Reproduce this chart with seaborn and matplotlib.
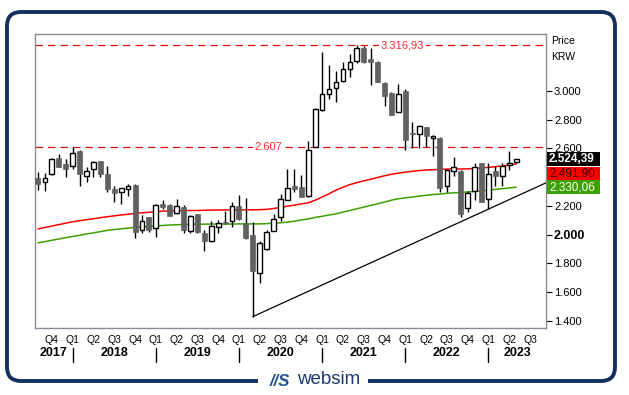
import numpy as np
import pandas as pd
import matplotlib
matplotlib.use("Agg")
import matplotlib.pyplot as plt
from matplotlib.patches import FancyBboxPatch, Rectangle
import matplotlib.transforms as mtransforms
import seaborn as sns

# monthly candles, Aug 2017 .. May 2023
months = pd.period_range("2017-08", "2023-05", freq="M")
opens = [2393, 2365, 2420, 2534, 2494, 2476, 2583, 2407, 2457, 2513, 2423, 2318,
         2295, 2316, 2346, 2033, 2121, 2049, 2214, 2205, 2149, 2191, 2024, 2142,
         2012, 1954, 2056, 2087, 2094, 2200, 2082, 1998, 1732, 1901, 2028, 2126,
         2244, 2337, 2330, 2272, 2612, 2870, 2977, 3019, 3072, 3151, 3207, 3297,
         3220, 3204, 3056, 2986, 2856, 3002, 2710, 2701, 2747, 2671, 2673, 2337,
         2441, 2446, 2186, 2306, 2499, 2249, 2446, 2411, 2485, 2504]
highs = [2434, 2432, 2530, 2562, 2525, 2607, 2590, 2471, 2510, 2515, 2478, 2339,
         2325, 2353, 2353, 2135, 2125, 2210, 2242, 2215, 2247, 2209, 2135, 2145,
         2033, 2098, 2103, 2167, 2226, 2276, 2256, 2087, 1954, 2030, 2144, 2283,
         2457, 2457, 2414, 2654, 2882, 3269, 3181, 3141, 3200, 3257, 3316.93, 3310,
         3297, 3210, 3060, 2990, 3049, 3010, 2786, 2766, 2750, 2696, 2680, 2460,
         2543, 2450, 2306, 2499, 2500, 2499, 2480, 2497, 2585, 2526]
lows = [2309, 2306, 2415, 2469, 2404, 2457, 2341, 2369, 2404, 2404, 2297, 2230,
        2214, 2270, 1979, 2014, 2019, 1985, 2180, 2130, 2145, 2010, 2010, 2010,
        1885, 1950, 2010, 2075, 2052, 2105, 1970, 1430, 1662, 1890, 2024, 2098,
        2240, 2300, 2260, 2265, 2608, 2863, 2944, 2926, 3065, 3100, 3197, 3193,
        3042, 3060, 2898, 2830, 2850, 2590, 2601, 2601, 2612, 2550, 2300, 2300,
        2410, 2125, 2156, 2242, 2228, 2179, 2341, 2341, 2450, 2502]
closes = [2355, 2393, 2525, 2473, 2459, 2567, 2425, 2441, 2508, 2420, 2320, 2292,
          2323, 2337, 2021, 2094, 2033, 2205, 2191, 2132, 2198, 2035, 2130, 2021,
          1959, 2059, 2080, 2080, 2200, 2110, 1977, 1750, 1940, 2021, 2107, 2247,
          2323, 2320, 2265, 2590, 2873, 2977, 3014, 3061, 3151, 3204, 3297, 3200,
          3199, 3065, 2967, 2833, 2979, 2659, 2699, 2754, 2689, 2685, 2325, 2450,
          2469, 2144, 2288, 2469, 2230, 2423, 2411, 2476, 2499, 2524.39]

# moving averages (one value per month)
ma_red = [2040, 2050, 2060, 2070, 2080, 2090, 2097, 2104, 2111, 2118, 2125, 2131,
          2137, 2142, 2148, 2152, 2156, 2160, 2164, 2166, 2167, 2168, 2168, 2168,
          2170, 2171, 2172, 2172, 2172, 2172, 2173, 2173, 2174, 2176, 2182, 2190,
          2198, 2206, 2214, 2222, 2240, 2262, 2285, 2310, 2330, 2348, 2362, 2375,
          2385, 2398, 2410, 2420, 2428, 2435, 2441, 2446, 2450, 2452, 2454, 2456,
          2457, 2457, 2458, 2460, 2464, 2468, 2473, 2478, 2485, 2491.90]
ma_green = [1943, 1952, 1961, 1970, 1979, 1988, 1996, 2005, 2013, 2021, 2030, 2036,
            2041, 2046, 2051, 2055, 2058, 2061, 2064, 2067, 2069, 2071, 2072, 2073,
            2073, 2074, 2074, 2074, 2074, 2075, 2075, 2075, 2075, 2077, 2080, 2083,
            2087, 2094, 2102, 2110, 2120, 2128, 2137, 2145, 2157, 2168, 2180, 2192,
            2204, 2215, 2227, 2240, 2250, 2256, 2262, 2268, 2274, 2279, 2283, 2288,
            2291, 2294, 2297, 2300, 2305, 2310, 2315, 2320, 2325, 2330.06]

# trendline anchors (Mar 2020 low, Jan 2023 low)
trend_months = ["2020-03", "2023-01"]
trend_prices = [1430, 2178]

level_high = 3316.93
level_mid = 2607

quarter_labels = ["Q4", "Q1", "Q2", "Q3", "Q4", "Q1", "Q2", "Q3", "Q4", "Q1", "Q2", "Q3",
                  "Q4", "Q1", "Q2", "Q3", "Q4", "Q1", "Q2", "Q3", "Q4", "Q1", "Q2", "Q3"]
years = ["2017", "2018", "2019", "2020", "2021", "2022", "2023"]


def fmt_de(v, dec=0):
    s = f"{v:,.{dec}f}"
    return s.replace(",", "X").replace(".", ",").replace("X", ".")


sns.set_theme(style="white")
plt.rcParams["font.family"] = ["Liberation Sans", "DejaVu Sans"]

df = pd.DataFrame({"month": months, "open": opens, "high": highs, "low": lows,
                   "close": closes, "ma_red": ma_red, "ma_green": ma_green})
df["x"] = np.arange(len(df))

fig = plt.figure(figsize=(6.29, 3.95), dpi=100)
fig.patch.set_facecolor("white")
ax = fig.add_axes([0.0561, 0.1704, 0.8115, 0.7428])
ax.set_facecolor("white")

# horizontal levels
for lvl in (level_high, level_mid):
    ax.axhline(lvl, color="#e01010", lw=0.9, ls=(0, (6, 4)), zorder=1)
ax.text(52.6, level_high, fmt_de(level_high, 2), color="#ff2b2b", fontsize=8,
        ha="center", va="center", zorder=2,
        bbox=dict(fc="white", ec="none", pad=1.5))
ax.text(33.3, level_mid, fmt_de(level_mid), color="#ff2b2b", fontsize=8,
        ha="center", va="center", zorder=2,
        bbox=dict(fc="white", ec="none", pad=1.5))

# moving averages
sns.lineplot(data=df, x="x", y="ma_red", color="#ff0000", lw=1.1, ax=ax, zorder=3)
sns.lineplot(data=df, x="x", y="ma_green", color="#3ca000", lw=1.1, ax=ax, zorder=3)

# trendline extended to the right edge
xmin, xmax = -0.39, 73.26
tx = [df.index[df["month"] == pd.Period(m, "M")][0] for m in trend_months]
slope = (trend_prices[1] - trend_prices[0]) / (tx[1] - tx[0])
ax.plot([tx[0], xmax], [trend_prices[0], trend_prices[0] + slope * (xmax - tx[0])],
        color="black", lw=0.9, zorder=3)

# candles
ax.vlines(df["x"], df["low"], df["high"], color="black", lw=1.0, zorder=4)
up = df["close"] >= df["open"]
body = (df["close"] - df["open"]).abs().clip(lower=7)
bottom = df[["open", "close"]].min(axis=1)
ax.bar(df["x"][up], body[up], bottom=bottom[up], width=0.68, color="white",
       edgecolor="black", linewidth=1.0, zorder=5)
ax.bar(df["x"][~up], body[~up], bottom=bottom[~up], width=0.72, color="#616161",
       edgecolor="#616161", linewidth=0.5, zorder=5)

ax.set_xlim(xmin, xmax)
ax.set_ylim(1353, 3394)
ax.set_xlabel("")
ax.set_ylabel("")

# axes frame
for sp in ax.spines.values():
    sp.set_color("#8a8a99")
    sp.set_linewidth(1.0)
    sp.set_visible(True)

# right price axis
ax.yaxis.tick_right()
yt = [1400, 1600, 1800, 2000, 2200, 2600, 2800, 3000]
ax.set_yticks(yt)
ax.set_yticklabels([fmt_de(v) for v in yt])
ax.tick_params(axis="y", direction="out", length=4, width=0.8, color="black",
               pad=2, labelsize=8, labelcolor="black")
for lab in ax.get_yticklabels():
    if lab.get_text() == "2.000":
        lab.set_fontweight("bold")
        lab.set_fontsize(9)

# quarter labels
qx = np.arange(2, 2 + 3 * len(quarter_labels), 3)
ax.set_xticks(qx)
ax.set_xticklabels(quarter_labels)
ax.tick_params(axis="x", length=0, pad=5, labelsize=7.5, labelcolor="black")

# year labels and separators
trans = mtransforms.blended_transform_factory(ax.transData, ax.transAxes)
seps = [5, 17, 29, 41, 53, 65]
bounds = [xmin] + seps + [xmax]
for k, yr in enumerate(years):
    ax.text((bounds[k] + bounds[k + 1]) / 2, -0.087, yr, transform=trans,
            ha="center", va="center", fontsize=9, fontweight="bold", color="black")
for s in seps:
    ax.plot([s, s], [-0.068, -0.118], transform=trans, color="black", lw=1.0,
            clip_on=False)

# overlay in pixel coordinates for frame, value boxes, logo
ov = fig.add_axes([0, 0, 1, 1], zorder=10)
ov.set_xlim(0, 629)
ov.set_ylim(395, 0)
ov.axis("off")
ov.patch.set_alpha(0)

ov.add_patch(FancyBboxPatch((7, 12), 608, 369,
                            boxstyle="round,pad=0,rounding_size=14",
                            fill=False, ec="#13305f", lw=2.8))
ov.add_patch(Rectangle((258, 372), 110, 18, fc="white", ec="none"))
ov.text(280, 381, "//S", fontsize=12, fontweight="bold", style="italic",
        color="#1f4f8f", ha="center", va="center")
ov.text(297, 380, "websim", fontsize=13.5, color="#1d3a6b", ha="left", va="center")

ov.text(551, 41, "Price", fontsize=7.5, ha="left", va="center", color="black")
ov.text(551, 57, "KRW", fontsize=7.5, ha="left", va="center", color="black")

boxes = [(152.3, "black", fmt_de(closes[-1], 2), "white", "bold"),
         (166.7, "#ff0000", fmt_de(ma_red[-1], 2), "#3a0000", "normal"),
         (180.0, "#3ca000", fmt_de(ma_green[-1], 2), "white", "normal")]
for y0, fc, txt, tc, fw in boxes:
    ov.add_patch(Rectangle((547, y0), 53, 13.5, fc=fc, ec="none"))
    ov.text(549, y0 + 7, txt, fontsize=8.5, color=tc, fontweight=fw,
            ha="left", va="center")

fig.savefig("out.png", dpi=100)
